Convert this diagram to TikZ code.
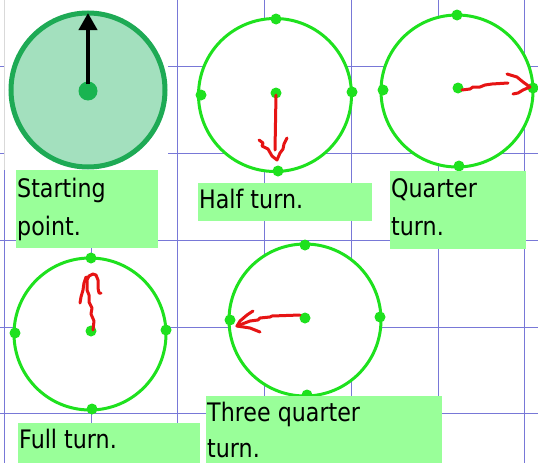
\documentclass[tikz,border=0pt]{standalone}
\usepackage{fontspec}
\setmainfont{DejaVu Sans}[FakeStretch=0.87]
\usetikzlibrary{arrows.meta}
\definecolor{gridblue}{RGB}{120,120,215}
\definecolor{labelgreen}{RGB}{153,255,153}
\definecolor{ringgreen}{RGB}{30,225,30}
\definecolor{startfill}{RGB}{163,224,190}
\definecolor{startring}{RGB}{30,170,85}
\definecolor{startdot}{RGB}{25,180,80}
\definecolor{redpen}{RGB}{230,20,20}
\tikzset{
  gridline/.style={draw=gridblue, line width=1pt},
  ring/.style={draw=ringgreen, fill=white, line width=3pt},
  spot/.style={fill=ringgreen},
  pen/.style={draw=redpen, line width=3pt, line cap=round, line join=round},
  labelbox/.style={fill=labelgreen, draw=none},
  labeltext/.style={anchor=base west, inner sep=0pt, font=\fontsize{25.5}{30}\selectfont, text=black}
}
\begin{document}
\begin{tikzpicture}[x=1pt,y=-1pt]
\useasboundingbox (0,0) rectangle (538,463);
\fill[white] (0,0) rectangle (538,463);
% grid
\foreach \gx in {4,91,177.5,264,351,438,524} \draw[gridline] (\gx,0) -- (\gx,463);
\foreach \gy in {66,153,240,327,413} \draw[gridline] (0,\gy) -- (538,\gy);
% starting point picture
\fill[white] (5,0) rectangle (168,170);
\draw[gray!30, line width=1pt] (4,0) -- (4,170);
\draw[draw=startring, fill=startfill, line width=5pt] (88,90) circle (77);
\fill[startdot] (88,91) circle (9.5);
\draw[line width=4pt, -{Triangle[width=18pt,length=17pt]}] (88,84) -- (88,13);
% half turn
\draw[ring] (275,95) circle (76.5);
\foreach \p in {(276,19),(201,95),(352,92),(278,171),(276,93)} \fill[spot] \p circle (5.5);
\draw[pen] (276,95) -- (275,150);
\draw[pen] (259,140) -- (263,143) -- (262,146) -- (268,149) -- (272,156) -- (277,160) -- (280,153) -- (283,149) -- (284,144) -- (287,138);
% quarter turn
\draw[ring] (457,91) circle (76);
\foreach \p in {(457,15),(383,90),(533,88),(459,166),(458,88)} \fill[spot] \p circle (5.5);
\draw[pen] (462,90) -- (470,89) -- (473,87) -- (480,87) -- (485,85) -- (492,84) -- (508,83);
\draw[pen] (507,74) -- (517,77) -- (523,82) -- (530,87) -- (523,90) -- (518,93) -- (513,94);
% full turn
\draw[ring] (90,334) circle (76);
\foreach \p in {(91,258),(15,333),(166,330),(92,409),(91,331)} \fill[spot] \p circle (5.5);
\draw[pen] (93,330) -- (94,321) -- (91,314) -- (92,308) -- (89,302) -- (89,295) -- (87,290) -- (87,280) -- (89,276) -- (93,274) -- (96,275) -- (98,280) -- (98,288) -- (99,293) -- (101,293);
\draw[pen] (86,277) -- (84,283) -- (83,290) -- (81,297) -- (80,303);
% three quarter turn
\draw[ring] (305,320) circle (76);
\foreach \p in {(305,245),(230,320),(380,317),(307,395),(305,318)} \fill[spot] \p circle (5.5);
\draw[pen] (300,315) -- (272,316) -- (270,317) -- (260,318) -- (258,320) -- (250,321) -- (237,326);
\draw[pen] (253,311) -- (247,315) -- (240,321) -- (237,326) -- (250,328) -- (255,330) -- (260,332);
% labels
\fill[labelbox] (16,170) rectangle (158,248);
\node[labeltext] (start1) at (17,197) {Starting};
\node[labeltext] (start2) at (17,235) {point.};
\fill[labelbox] (198,183) rectangle (372,221);
\node[labeltext] (half) at (199,208) {Half turn.};
\fill[labelbox] (390,171) rectangle (526,249);
\node[labeltext] (quarter1) at (391,197) {Quarter};
\node[labeltext] (quarter2) at (391,235) {turn.};
\fill[labelbox] (18,423) rectangle (200,463);
\node[labeltext] (full) at (19,448) {Full turn.};
\fill[labelbox] (206,396) rectangle (442,463);
\node[labeltext] (three1) at (207,421) {Three quarter};
\node[labeltext] (three2) at (207,457.5) {turn.};
\end{tikzpicture}
\end{document}
